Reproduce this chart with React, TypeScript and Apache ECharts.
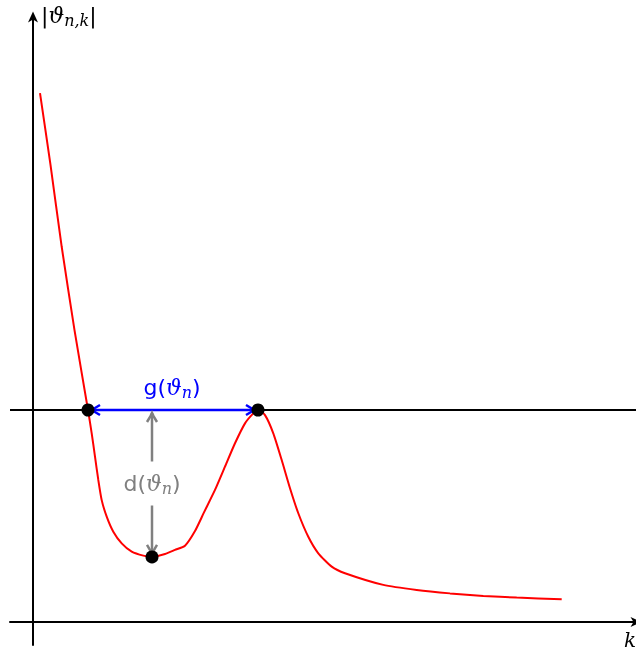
import React, { useEffect, useRef } from "react";
import * as echarts from "echarts";

// Red curve |ϑ_{n,k}| against k (data units: x axis at y=0, threshold line at y=1)
const curveX = [0.07, 0.175, 0.287, 0.415, 0.55, 0.587, 0.62, 0.653, 0.687, 0.737, 0.803, 0.887, 0.987, 1.103, 1.19, 1.32, 1.42, 1.52, 1.62, 1.71, 1.82, 1.92, 2.02, 2.12, 2.203, 2.25, 2.32, 2.403, 2.487, 2.57, 2.653, 2.753, 2.853, 2.987, 3.12, 3.503, 3.837, 4.17, 4.503, 4.837, 5.287];
const curveY = [2.495, 2.156, 1.77, 1.377, 1.0, 0.89, 0.78, 0.67, 0.575, 0.497, 0.426, 0.371, 0.332, 0.313, 0.307, 0.321, 0.34, 0.36, 0.429, 0.517, 0.623, 0.733, 0.843, 0.937, 0.984, 1.0, 0.976, 0.89, 0.764, 0.631, 0.513, 0.402, 0.324, 0.261, 0.23, 0.175, 0.151, 0.135, 0.123, 0.115, 0.107];

const thresholdY = 1;
const xRange = [-0.23, 6.03];
const yRange = [-0.1085, 2.8538];

// Highlighted points: two crossings and the local minimum
const dotsX = [0.55, 2.25, 1.19];
const dotsY = [1.0, 1.0, 0.307];

// Annotation arrows: [x1, y1, x2, y2]
const gapArrow = [0.55, 1.0, 2.25, 1.0];
const distArrow = [1.19, 1.0, 1.19, 0.307];
const arrowColors = ["#0000ff", "#808080"];
const arrowLabels = ["g", "d"];

const MATH = "'DejaVu Serif', serif";
const SANS = "'DejaVu Sans', sans-serif";

function richFor(color: string) {
  return {
    a: { fontFamily: SANS, fontSize: 22, fill: color, color, lineHeight: 28 },
    t: { fontFamily: MATH, fontStyle: "italic", fontSize: 22, fill: color, color, lineHeight: 28 },
    s: { fontFamily: MATH, fontStyle: "italic", fontSize: 16, fill: color, color, lineHeight: 28, padding: [10, 0, 0, 0] },
  };
}

export default function App() {
  const ref = useRef<HTMLDivElement>(null);
  useEffect(() => {
    if (!ref.current) return;
    const chart = echarts.init(ref.current, null, { renderer: "svg" });
    const stealth = "path://M5,0 L10,11 L5,8 L0,11 Z";
    const renderArrow = (params: any, api: any) => {
      const i = params.dataIndex;
      const color = arrowColors[i];
      const p1 = api.coord([api.value(0), api.value(1)]);
      const p2 = api.coord([api.value(2), api.value(3)]);
      const dx = p2[0] - p1[0];
      const dy = p2[1] - p1[1];
      const len = Math.sqrt(dx * dx + dy * dy);
      const ux = dx / len;
      const uy = dy / len;
      const nx = -uy;
      const ny = ux;
      const inset = 3;
      const a = [p1[0] + ux * inset, p1[1] + uy * inset];
      const b = [p2[0] - ux * inset, p2[1] - uy * inset];
      const L = 9;
      const W = 5;
      const head = (tip: number[], dir: number) => {
        const bx = -ux * dir;
        const by = -uy * dir;
        return [
          [tip[0] + bx * L + nx * W, tip[1] + by * L + ny * W],
          [tip[0] + bx * L * 0.35 + nx * W * 0.3, tip[1] + by * L * 0.35 + ny * W * 0.3],
          tip,
          [tip[0] + bx * L * 0.35 - nx * W * 0.3, tip[1] + by * L * 0.35 - ny * W * 0.3],
          [tip[0] + bx * L - nx * W, tip[1] + by * L - ny * W],
        ];
      };
      const lw = 2.5;
      const mid = [(p1[0] + p2[0]) / 2, (p1[1] + p2[1]) / 2];
      const labelText = "{a|" + arrowLabels[i] + "(}{t|ϑ}{s|n}{a|)}";
      const children: any[] = [
        { type: "line", shape: { x1: a[0], y1: a[1], x2: b[0], y2: b[1] }, style: { stroke: color, lineWidth: lw } },
        { type: "polyline", shape: { points: head(a, -1) }, style: { stroke: color, lineWidth: lw, fill: null } },
        { type: "polyline", shape: { points: head(b, 1) }, style: { stroke: color, lineWidth: lw, fill: null } },
      ];
      if (i === 0) {
        children.push({
          type: "text",
          x: mid[0] - 1,
          y: mid[1] - 23,
          style: { text: labelText, rich: richFor(color), fill: color, align: "center", verticalAlign: "middle" },
        });
      } else {
        children.push({
          type: "text",
          x: mid[0],
          y: mid[1],
          z2: 10,
          style: {
            text: labelText,
            rich: richFor(color),
            fill: color,
            align: "center",
            verticalAlign: "middle",
            backgroundColor: "#ffffff",
            padding: [8, 2, 8, 2],
          },
        });
      }
      return { type: "group", children };
    };

    chart.setOption({
      animation: false,
      grid: { left: 10, right: 0, top: 17, bottom: 12, containLabel: false },
      xAxis: {
        type: "value",
        min: xRange[0],
        max: xRange[1],
        axisLine: {
          show: true,
          onZero: true,
          symbol: ["none", stealth],
          symbolSize: [10, 12],
          lineStyle: { color: "#000", width: 2 },
        },
        axisTick: { show: false },
        axisLabel: { show: false },
        splitLine: { show: false },
      },
      yAxis: {
        type: "value",
        min: yRange[0],
        max: yRange[1],
        axisLine: {
          show: true,
          onZero: true,
          symbol: ["none", stealth],
          symbolSize: [10, 12],
          lineStyle: { color: "#000", width: 2 },
        },
        axisTick: { show: false },
        axisLabel: { show: false },
        splitLine: { show: false },
      },
      graphic: [
        {
          type: "text",
          left: 41,
          top: 2,
          style: {
            text: "{a||}{t|ϑ}{s|n,k}{a||}",
            rich: {
              a: { fontFamily: SANS, fontSize: 22, fill: "#000", lineHeight: 28 },
              t: { fontFamily: MATH, fontStyle: "italic", fontSize: 22, fill: "#000", lineHeight: 28 },
              s: { fontFamily: MATH, fontStyle: "italic", fontSize: 16, fill: "#000", lineHeight: 28, padding: [10, 0, 0, 0] },
            },
          },
        },
        {
          type: "text",
          left: 624,
          top: 630,
          style: { text: "k", fontFamily: MATH, fontStyle: "italic", fontSize: 20, fill: "#000" },
        },
      ],
      series: [
        {
          type: "line",
          data: [[xRange[0], thresholdY], [xRange[1], thresholdY]],
          symbol: "none",
          lineStyle: { color: "#000", width: 2 },
          z: 1,
        },
        {
          type: "line",
          data: curveX.map((x, i) => [x, curveY[i]]),
          symbol: "none",
          smooth: 0.2,
          lineStyle: { color: "#ff0000", width: 2 },
          z: 2,
        },
        {
          type: "custom",
          renderItem: renderArrow,
          data: [gapArrow, distArrow],
          encode: { x: [0, 2], y: [1, 3] },
          z: 3,
        },
        {
          type: "scatter",
          data: dotsX.map((x, i) => [x, dotsY[i]]),
          symbol: "circle",
          symbolSize: 13,
          itemStyle: { color: "#000", opacity: 1 },
          z: 4,
        },
      ],
    });
    return () => chart.dispose();
  }, []);
  return <div ref={ref} style={{ position: "fixed", left: 0, top: 0, width: 636, height: 657 }} />;
}
